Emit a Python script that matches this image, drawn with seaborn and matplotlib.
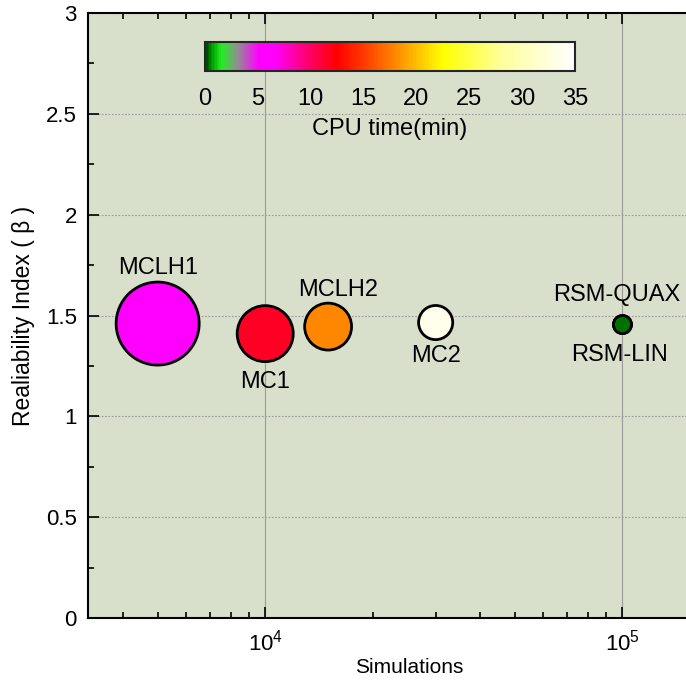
import numpy as np
import pandas as pd
import matplotlib
matplotlib.use("Agg")
import matplotlib.pyplot as plt
import matplotlib.ticker as mticker
from matplotlib.colors import LinearSegmentedColormap, Normalize
import seaborn as sns

# data
methods = ["MCLH1", "MC1", "MCLH2", "MC2", "RSM-QUAX", "RSM-LIN"]
simulations = [5000, 10000, 15000, 30000, 100000, 100000]
beta = [1.46, 1.41, 1.445, 1.465, 1.455, 1.455]
cpu_time = [6.0, 11.5, 18.0, 33.5, 0.6, 0.6]
bubble = [21.3, 9.7, 6.8, 3.6, 1.0, 1.0]

df = pd.DataFrame({"Method": methods, "Simulations": simulations,
                   "beta": beta, "CPU": cpu_time, "bubble": bubble})

sns.set_style("ticks")
plt.rcParams["font.family"] = ["Liberation Sans", "DejaVu Sans"]
plt.rcParams["text.color"] = "black"
plt.rcParams["axes.labelcolor"] = "black"

# colour scale like the original figure
cmap = LinearSegmentedColormap.from_list("cpu", [
    (0.0, "#003300"), (0.6 / 35, "#00a000"), (1.5 / 35, "#22ee22"),
    (3.0 / 35, "#909090"), (5.0 / 35, "#ff00ff"), (6.5 / 35, "#ff00ff"),
    (10.0 / 35, "#ff0060"), (12.5 / 35, "#ff0000"), (15.0 / 35, "#ff3a00"),
    (18.0 / 35, "#ff8800"), (22.5 / 35, "#ffff00"), (28.0 / 35, "#ffff99"),
    (1.0, "#ffffff")])
norm = Normalize(0, 35)

fig = plt.figure(figsize=(6.86, 6.89), dpi=100)
ax = fig.add_axes([88 / 686, 71 / 689, 642 / 686, 605 / 689])
ax.set_facecolor("#d8e0cb")

sns.scatterplot(data=df, x="Simulations", y="beta", hue="CPU", palette=cmap,
                hue_norm=norm, size="bubble", sizes=(168, 3573),
                edgecolor="black", linewidth=2, legend=False, ax=ax, zorder=3)
# dark green RSM point like the original
ax.collections[0].set_facecolors([cmap(norm(c)) if c > 1 else "#007000" for c in cpu_time])

ax.set_xscale("log")
ax.set_xlim(10 ** 3.504, 2e5)
ax.set_ylim(0, 3)
ax.yaxis.set_major_locator(mticker.MultipleLocator(0.5))
ax.yaxis.set_minor_locator(mticker.MultipleLocator(0.25))
ax.yaxis.set_major_formatter(mticker.FormatStrFormatter("%g"))
ax.xaxis.set_major_locator(mticker.LogLocator(base=10))
ax.xaxis.set_minor_locator(mticker.LogLocator(base=10, subs=np.arange(2, 10)))
ax.xaxis.set_minor_formatter(mticker.NullFormatter())

ax.grid(True, axis="y", which="major", linestyle=(0, (1.5, 1.5)), color="#999999", linewidth=0.8)
ax.grid(True, axis="x", which="major", linestyle="-", color="#9a9a9a", linewidth=0.8)
ax.tick_params(which="both", direction="in", top=True, right=True, width=1.2,
               colors="black", labelcolor="black")
ax.tick_params(which="major", length=8, labelsize=16, pad=8)
ax.tick_params(which="minor", length=4)
for s in ax.spines.values():
    s.set_linewidth(1.5)
    s.set_color("black")

ax.set_xlabel("Simulations", fontsize=15, labelpad=2)
ax.set_ylabel("Realiability Index ( β )", fontsize=16.5, labelpad=8)

offsets = {"MCLH1": (0, 40), "MC1": (0, -35), "MCLH2": (7, 26),
           "MC2": (0, -24), "RSM-QUAX": (-4, 21), "RSM-LIN": (-2, -22)}
for m, x, y in zip(methods, simulations, beta):
    ax.annotate(m, (x, y), xytext=offsets[m], textcoords="offset points",
                ha="center", va="center", fontsize=17, color="black", zorder=4)

# colour bar
cax = fig.add_axes([205 / 686, 618 / 689, 370 / 686, 29 / 689])
sm = plt.cm.ScalarMappable(norm=norm, cmap=cmap)
cb = fig.colorbar(sm, cax=cax, orientation="horizontal")
cb.set_ticks(np.arange(0, 36, 5))
cb.ax.xaxis.set_minor_locator(mticker.MultipleLocator(2.5))
cb.ax.tick_params(which="both", direction="in", colors="black", labelcolor="black",
                  labelsize=17, pad=12)
cb.ax.tick_params(which="major", length=8, width=1.2)
cb.ax.tick_params(which="minor", length=4, width=1.2)
cb.outline.set_linewidth(1.5)
cb.set_label("CPU time(min)", fontsize=17, labelpad=6, color="black")

fig.savefig("out.png", dpi=100)
